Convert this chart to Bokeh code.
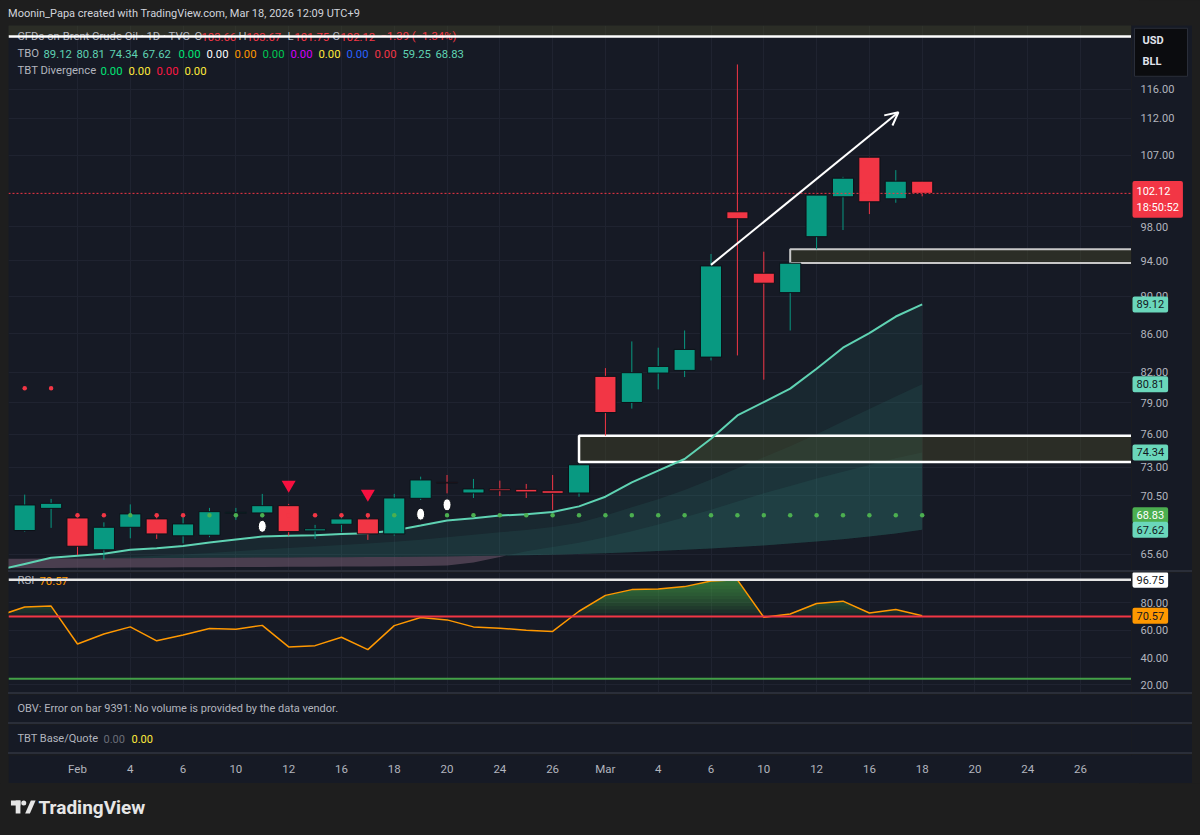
from bokeh.plotting import figure
from bokeh.layouts import column, row
from bokeh.models import (Range1d, FixedTicker, Label, Span, Arrow, OpenHead, Spacer,
                          ColumnDataSource)
from bokeh.embed import file_html
from bokeh.resources import INLINE
from bokeh.core.properties import value

# ---------------------------------------------------------------- data
day_labels = ["Jan 28", "Jan 29", "Jan 30", "Feb 2", "Feb 3", "Feb 4", "Feb 5", "Feb 6", "Feb 9",
              "Feb 10", "Feb 11", "Feb 12", "Feb 13", "Feb 16", "Feb 17", "Feb 18", "Feb 19", "Feb 20",
              "Feb 23", "Feb 24", "Feb 25", "Feb 26", "Feb 27", "Mar 2", "Mar 3", "Mar 4", "Mar 5",
              "Mar 6", "Mar 9", "Mar 10", "Mar 11", "Mar 12", "Mar 13", "Mar 16", "Mar 17", "Mar 18"]
day_index = [-3, -2, -1, 0, 1, 2, 3, 4, 5, 6, 7, 8, 9, 10, 11, 12, 13, 14, 15, 16, 17, 18, 19,
             20, 21, 22, 23, 24, 25, 26, 27, 28, 29, 30, 31, 32]

# candles (Jan 29 .. Mar 18)
candle_index = day_index[1:]
opens = [67.55, 69.41, 68.60, 65.97, 67.82, 68.52, 67.11, 67.16, 68.99, 69.02, 69.64, 67.52, 68.07,
         68.52, 67.27, 70.27, 71.66, 70.73, 71.08, 71.05, 70.93, 70.73, 81.60, 79.03, 81.93, 82.20,
         83.55, 99.84, 92.60, 90.42, 96.84, 101.69, 106.75, 101.44, 103.66]
highs = [70.59, 70.22, 68.99, 68.23, 69.75, 68.80, 68.80, 69.45, 69.45, 70.65, 69.79, 68.02, 68.94,
         68.94, 70.65, 72.16, 72.31, 71.96, 71.81, 71.52, 72.31, 73.30, 82.43, 85.17, 84.52, 86.32,
         94.81, 119.60, 95.07, 93.80, 101.95, 104.21, 106.80, 105.07, 103.67]
lows = [67.46, 67.77, 65.55, 65.17, 66.91, 66.86, 66.50, 67.00, 68.44, 68.65, 67.13, 66.86, 67.41,
        66.78, 67.13, 70.13, 70.70, 70.30, 70.47, 70.30, 69.28, 70.41, 75.88, 78.44, 80.31, 81.53,
        83.21, 83.72, 81.27, 86.32, 95.35, 97.63, 99.56, 100.95, 101.75]
closes = [69.70, 69.84, 66.26, 67.82, 68.94, 67.27, 68.10, 69.13, 69.07, 69.64, 67.46, 67.69, 68.52,
          67.27, 70.30, 71.87, 71.60, 71.08, 70.93, 70.82, 70.70, 73.22, 78.06, 81.97, 82.60, 84.34,
          93.43, 98.99, 91.47, 93.74, 101.90, 104.04, 101.07, 103.66, 102.12]
stop_level = [80.41, 80.41, 68.83, 68.83, 68.83, 68.83, 68.83, 68.83, 68.83, 68.83, 68.83, 68.83,
              68.83, 68.83, 68.83, 68.83, 68.83, 68.83, 68.83, 68.83, 68.83, 68.83, 68.83, 68.83,
              68.83, 68.83, 68.83, 68.83, 68.83, 68.83, 68.83, 68.83, 68.83, 68.83, 68.83]

# TBO lines (Jan 28 .. Mar 18)
tbo_fast = [64.36, 64.84, 65.33, 65.49, 65.65, 65.97, 66.10, 66.29, 66.56, 66.81, 67.05, 67.11,
            67.16, 67.27, 67.32, 67.55, 67.96, 68.38, 68.57, 68.80, 68.91, 69.11, 69.58, 70.41,
            71.66, 72.69, 73.74, 75.60, 77.79, 79.07, 80.38, 82.37, 84.52, 86.04, 87.81, 89.12]
tbo_mid = [64.90, 65.00, 65.10, 65.20, 65.30, 65.40, 65.50, 65.60, 65.72, 65.85, 66.00, 66.12,
           66.24, 66.36, 66.48, 66.62, 66.80, 67.00, 67.20, 67.40, 67.60, 67.85, 68.20, 68.80,
           69.50, 70.20, 71.00, 71.90, 72.90, 73.90, 74.90, 76.00, 77.20, 78.40, 79.60, 80.81]
tbo_mid2 = [64.50, 64.51, 64.52, 64.53, 64.54, 64.55, 64.56, 64.57, 64.58, 64.59, 64.60, 64.61,
            64.62, 64.63, 64.64, 64.66, 64.68, 64.72, 64.95, 65.40, 65.85, 66.20, 66.55, 67.00,
            67.50, 68.05, 68.65, 69.30, 70.00, 70.70, 71.35, 72.00, 72.60, 73.20, 73.80, 74.34]
tbo_slow = [65.25, 65.26, 65.27, 65.28, 65.29, 65.30, 65.31, 65.32, 65.33, 65.34, 65.35, 65.36,
            65.37, 65.38, 65.39, 65.40, 65.42, 65.44, 65.47, 65.50, 65.54, 65.58, 65.63, 65.70,
            65.78, 65.87, 65.97, 66.08, 66.20, 66.33, 66.48, 66.65, 66.84, 67.05, 67.30, 67.62]

rsi = [70.4, 76.9, 77.6, 49.9, 57.2, 62.4, 52.2, 56.4, 61.2, 60.7, 63.5, 47.8, 48.7, 54.8, 45.8,
       63.3, 69.2, 67.5, 62.4, 61.4, 60.0, 59.1, 73.8, 85.4, 89.6, 90.1, 91.8, 95.9, 96.75, 69.4,
       71.8, 79.5, 81.2, 72.5, 75.1, 70.57]
rsi_upper, rsi_lower, rsi_mark = 70, 24.5, 96.75

sell_index = [8, 11]
sell_price = [71.45, 70.67]
div_index = [7, 13, 14]
div_price = [67.90, 68.92, 69.71]

box_left = [-4, 27, 19]
box_right = [45, 45, 45]
box_top = [140.0, 95.35, 75.88]
box_bottom = [123.77, 93.77, 73.47]
arrow_x = [24, 31.1]
arrow_y = [93.55, 112.8]
last_close = 102.12
bar_countdown = "18:50:52"
currency_box_price = 121.4

price_ticks = [65.6, 70.5, 73, 76, 79, 82, 86, 90, 94, 98, 107, 112, 116]
rsi_ticks = [20, 40, 60, 80]
grid_index = [0, 2, 4, 6, 8, 10, 12, 14, 16, 18, 20, 22, 24, 26, 28, 30, 32, 34, 36, 38, 40]
time_tick_index = [0, 2, 4, 6, 8, 10, 12, 14, 16, 18, 20, 22, 24, 26, 28, 30, 32, 34, 36, 38]
time_tick_labels = ["Feb", "4", "6", "10", "12", "16", "18", "20", "24", "26",
                    "Mar", "4", "6", "10", "12", "16", "18", "20", "24", "26"]

# ---------------------------------------------------------------- style
BG = "#161a25"
OUTER = "#1e1e1e"
SEP = "#2a2e39"
GRID = "#1f2330"
TXT = "#b2b5be"
UP = "#089981"
DN = "#f23645"
MINT = "#5fd3b3"
TAGMINT = "#6ad7bb"
FONT = "Roboto"
LEG = "11.3px"
W = 1184
FW = 1123
AW = 61
xr = Range1d(-2.614, 39.93)
main_yr = Range1d(64.32, 125.45)
rsi_yr = Range1d(14.5, 102.1)


def base_fig(width, height, x_range, y_range, y_type="linear", margin=(0, 0, 0, 0), bg=BG):
    f = figure(width=width, height=height, x_range=x_range, y_range=y_range, y_axis_type=y_type,
               x_axis_location=None, y_axis_location=None, toolbar_location=None,
               output_backend="svg", background_fill_color=bg, border_fill_color=bg,
               outline_line_color=None, min_border=0, margin=margin)
    return f


def chart(height, y_range, ticks, y_type="linear"):
    f = base_fig(FW, height, xr, y_range, y_type, margin=(0, 0, 0, 8))
    f.xgrid.ticker = FixedTicker(ticks=grid_index)
    f.xgrid.grid_line_color = GRID
    f.ygrid.ticker = FixedTicker(ticks=ticks)
    f.ygrid.grid_line_color = GRID
    return f


def scale_panel(height, y_range, ticks, y_type="linear"):
    f = base_fig(AW, height, Range1d(0, AW), y_range, y_type, margin=(0, 8, 0, 0))
    f.grid.visible = False
    f.text(x=[9] * len(ticks), y=ticks, text=["%.2f" % t for t in ticks], text_color=TXT,
           text_font=value(FONT), text_font_size="11px", text_baseline="middle")
    return f


def area_between(xs, ys, base, above=True):
    X, B, T = [], [], []
    for k in range(len(xs)):
        if k:
            d0 = ys[k - 1] - base[k - 1]
            d1 = ys[k] - base[k]
            if d0 * d1 < 0:
                fr = d0 / (d0 - d1)
                xc = xs[k - 1] + fr * (xs[k] - xs[k - 1])
                bc = base[k - 1] + fr * (base[k] - base[k - 1])
                X.append(xc); B.append(bc); T.append(bc)
        X.append(xs[k])
        if above:
            B.append(base[k]); T.append(max(ys[k], base[k]))
        else:
            B.append(min(ys[k], base[k])); T.append(base[k])
    return X, B, T


def txt(fig, x, y, text, color=TXT, size=LEG, style="normal"):
    fig.add_layout(Label(x=x, y=y, x_units="screen", y_units="screen", text=text, text_color=color,
                         text_font=FONT, text_font_size=size, text_font_style=style,
                         text_baseline="middle", text_align="left"))


def tag(fig, y, text, bg, fg, y_offset=0):
    fig.add_layout(Label(x=1, y=y, x_units="screen", y_units="data", text=text,
                         text_color=fg, text_font=FONT, text_font_size="11px",
                         text_baseline="middle", text_align="left", y_offset=y_offset,
                         background_fill_color=bg, background_fill_alpha=1.0,
                         padding=4, border_radius=2))


def sep():
    return Spacer(width=W, height=2, margin=(0, 8, 0, 8), styles={"background-color": SEP})


# ---------------------------------------------------------------- header
hd = base_fig(1200, 25, Range1d(0, 1200), Range1d(25, 0), bg=OUTER)
hd.grid.visible = False
hd.text(x=[8], y=[12.5], text=["Moonin_Papa created with TradingView.com, Mar 18, 2026 12:09 UTC+9"],
        text_font=value(FONT), text_font_size="11px", text_color="#d1d4dc", text_baseline="middle")

# ---------------------------------------------------------------- main pane
p = chart(545, main_yr, price_ticks, "log")

for line in (tbo_fast, tbo_mid, tbo_mid2):
    X, B, T = area_between(day_index, line, tbo_slow, True)
    p.varea(x=X, y1=B, y2=T, fill_color="#3aa597", fill_alpha=0.1)
X, B, T = area_between(day_index, tbo_mid2, tbo_slow, False)
p.varea(x=X, y1=B, y2=T, fill_color="#765d72", fill_alpha=0.55)

p.quad(left=box_left, right=box_right, top=box_top, bottom=box_bottom,
       fill_color="#4c4c28", fill_alpha=0.4, line_color=None)
p.quad(left=box_left[1:2], right=box_right[1:2], top=box_top[1:2], bottom=box_bottom[1:2],
       fill_color=None, line_color="#c8c8c8", line_width=2)
p.quad(left=box_left[2:], right=box_right[2:], top=box_top[2:], bottom=box_bottom[2:],
       fill_color=None, line_color="#ffffff", line_width=2.5)

p.line(day_index, tbo_fast, line_color=MINT, line_width=2)

colors = [UP if c >= o else DN for o, c in zip(opens, closes)]
src = ColumnDataSource(dict(x=candle_index, h=highs, l=lows,
                            top=[max(o, c) for o, c in zip(opens, closes)],
                            bot=[min(o, c) for o, c in zip(opens, closes)], color=colors))
p.segment(x0="x", y0="l", x1="x", y1="h", line_color="color", line_width=1, source=src)
p.vbar(x="x", width=0.8, top="top", bottom="bot", fill_color="color", line_color="#0d1118",
       line_width=1, source=src)

dot_colors = ["#4caf50" if c > s else DN for c, s in zip(closes, stop_level)]
p.scatter(candle_index, stop_level, marker="circle", size=4.5, fill_color=dot_colors, line_color=None)
p.scatter(sell_index, sell_price, marker="inverted_triangle", size=14, fill_color="#f7103f",
          line_color=None)
p.ellipse(x=div_index, y=div_price, width=8, height=12, width_units="screen",
          height_units="screen", fill_color="#ffffff", line_color="#0d1118", line_width=1)

p.add_layout(Span(location=last_close, dimension="width", line_color=DN, line_dash="2 2",
                  line_width=1))
p.add_layout(Arrow(end=OpenHead(line_color="#ffffff", line_width=2, size=13),
                   x_start=arrow_x[0], y_start=arrow_y[0], x_end=arrow_x[1], y_end=arrow_y[1],
                   line_color="#ffffff", line_width=2))

legend1 = [("CFDs on Brent Crude Oil · 1D · TVC", TXT, 17), ("O", TXT, 194), ("103.66", DN, 201),
           ("H", TXT, 238), ("103.67", DN, 246), ("L", TXT, 287), ("101.75", DN, 294),
           ("C", TXT, 332), ("102.12", DN, 340), ("−1.39 (−1.34%)", DN, 380)]
legend2 = [("TBO", TXT, 17), ("89.12", MINT, 43), ("80.81", MINT, 76), ("74.34", MINT, 109),
           ("67.62", MINT, 142), ("0.00", "#00e676", 178), ("0.00", "#ffffff", 206),
           ("0.00", "#ff9800", 234), ("0.00", "#00c853", 262), ("0.00", "#d500f9", 290),
           ("0.00", "#ffeb3b", 318), ("0.00", "#2962ff", 346), ("0.00", "#f23645", 374),
           ("59.25", MINT, 402), ("68.83", MINT, 435)]
legend3 = [("TBT Divergence", TXT, 17), ("0.00", "#00e676", 100), ("0.00", "#ffeb3b", 128),
           ("0.00", "#ff1744", 156), ("0.00", "#ffeb3b", 184)]
for rowl, ys in ((legend1, 545 - 11), (legend2, 545 - 28), (legend3, 545 - 45)):
    for t, c, x in rowl:
        txt(p, x - 8, ys, t, c)
p.add_layout(Span(location=box_bottom[0], dimension="width", line_color="#ffffff",
                  line_width=2.5, level="overlay"))

# main price scale
ps = scale_panel(545, main_yr, price_ticks, "log")
ps.rect(x=[29.5], y=[currency_box_price], width=[53], height=[48], height_units="screen",
        fill_color="#0b0c0f", line_color="#2a2e39", line_width=1)
txt(ps, 11, 545 - 15, "USD", "#e0e3eb", "11px", "bold")
txt(ps, 11, 545 - 36, "BLL", "#e0e3eb", "11px", "bold")
tag(ps, last_close, "%.2f\n%s" % (last_close, bar_countdown), DN, "#ffffff", y_offset=-6)
tag(ps, tbo_fast[-1], "%.2f" % tbo_fast[-1], TAGMINT, "#131722")
tag(ps, tbo_mid[-1], "%.2f" % tbo_mid[-1], TAGMINT, "#131722")
tag(ps, tbo_mid2[-1], "%.2f" % tbo_mid2[-1], TAGMINT, "#131722")
tag(ps, stop_level[-1], "%.2f" % stop_level[-1], "#4caf50", "#ffffff")
tag(ps, tbo_slow[-1], "%.2f" % tbo_slow[-1], TAGMINT, "#131722")

# ---------------------------------------------------------------- RSI pane
r = chart(120, rsi_yr, rsi_ticks)
for t in (70, 72.5, 75, 77.5, 80, 82.5, 85, 87.5, 90, 92.5, 95):
    X, B, T = area_between(day_index, rsi, [t] * len(rsi), True)
    r.varea(x=X, y1=B, y2=T, fill_color="#4caf50", fill_alpha=0.08)
r.add_layout(Span(location=rsi_upper, dimension="width", line_color=DN, line_width=2))
r.add_layout(Span(location=rsi_lower, dimension="width", line_color="#43a047", line_width=2))
r.line(day_index, rsi, line_color="#ff9800", line_width=1.5)
txt(r, 9, 112, "RSI")
txt(r, 31, 112, "%.2f" % rsi[-1], "#ff9800")
r.add_layout(Span(location=rsi_mark, dimension="width", line_color="#e6e6e6", line_width=2.5,
                  level="overlay"))

rs = scale_panel(120, rsi_yr, rsi_ticks)
tag(rs, rsi_mark, "%.2f" % rsi_mark, "#ffffff", "#131722")
tag(rs, rsi[-1], "%.2f" % rsi[-1], "#ff9800", "#131722")

# ---------------------------------------------------------------- OBV / TBT panes
obv = base_fig(W, 28, xr, Range1d(0, 1), margin=(0, 8, 0, 8))
obv.grid.visible = False
txt(obv, 9, 14, "OBV: Error on bar 9391: No volume is provided by the data vendor.", TXT, "11px")
tbt = base_fig(W, 28, xr, Range1d(0, 1), margin=(0, 8, 0, 8))
tbt.grid.visible = False
txt(tbt, 9, 14, "TBT Base/Quote", TXT, "11px")
txt(tbt, 95, 14, "0.00", "#6a6d78", "11px")
txt(tbt, 123, 14, "0.00", "#ffeb3b", "11px")

# ---------------------------------------------------------------- time axis
ta = figure(width=W, height=29, x_range=xr, y_range=Range1d(0, 1), x_axis_location="below",
            y_axis_location=None, toolbar_location=None, output_backend="svg",
            background_fill_color=BG, border_fill_color=BG, outline_line_color=None,
            min_border_left=0, min_border_right=AW, min_border_top=0, min_border_bottom=28,
            margin=(0, 8, 0, 8))
ta.grid.visible = False
ta.xaxis.ticker = FixedTicker(ticks=time_tick_index)
ta.xaxis.major_label_overrides = {i: s for i, s in zip(time_tick_index, time_tick_labels)}
ta.xaxis.axis_line_color = None
ta.xaxis.major_tick_line_color = None
ta.xaxis.minor_tick_line_color = None
ta.xaxis.major_tick_out = 0
ta.xaxis.major_label_standoff = 6
ta.xaxis.major_label_text_color = TXT
ta.xaxis.major_label_text_font = FONT
ta.xaxis.major_label_text_font_size = "11.5px"

# ---------------------------------------------------------------- footer
ft = base_fig(1200, 52, Range1d(0, 1200), Range1d(52, 0), bg=OUTER)
ft.grid.visible = False
ft.quad(left=[11, 16], right=[21, 21], top=[17, 17], bottom=[22, 30], fill_color="#e6e6e6",
        line_color=None)
ft.scatter(x=[24.5], y=[19.5], size=5, fill_color="#e6e6e6", line_color=None)
ft.patch(x=[26, 31, 37, 32], y=[30, 30, 17, 17], fill_color="#e6e6e6", line_color=None)
ft.text(x=[40], y=[24], text=["TradingView"], text_font=value(FONT), text_font_style="bold",
        text_font_size="19px", text_color="#e6e6e6", text_baseline="middle")

layout = column(hd, row(p, ps, spacing=0), sep(), row(r, rs, spacing=0), sep(), obv, sep(), tbt,
                sep(), ta, ft, spacing=0, styles={"background-color": OUTER})

open("out.html", "w").write(file_html(layout, INLINE, title="Brent Crude Oil"))
